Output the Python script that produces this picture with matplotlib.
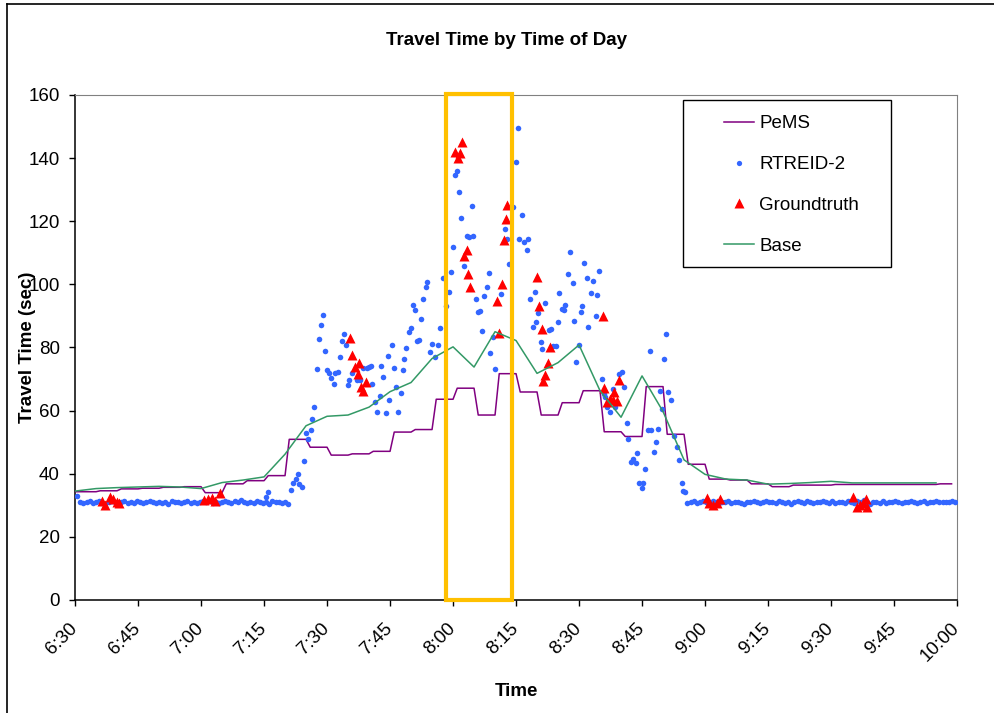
import matplotlib
matplotlib.use("Agg")
import matplotlib.pyplot as plt
import numpy as np
from matplotlib.patches import Rectangle
from matplotlib.lines import Line2D

plt.rcParams['font.family'] = ['Liberation Sans', 'DejaVu Sans']

# time is in minutes after midnight (390 = 6:30)
tick_times = [390, 405, 420, 435, 450, 465, 480, 495, 510, 525, 540, 555, 570, 585, 600]
tick_labels = ["6:30", "6:45", "7:00", "7:15", "7:30", "7:45", "8:00", "8:15",
               "8:30", "8:45", "9:00", "9:15", "9:30", "9:45", "10:00"]

# PeMS: 5-minute aggregates, one value per interval start
pems_start = [390, 395, 400, 405, 410, 415, 420, 425, 430, 435, 440, 445, 450, 455,
              460, 465, 470, 475, 480, 485, 490, 495, 500, 505, 510, 515, 520, 525,
              530, 535, 540, 545, 550, 555, 560, 565, 570, 575, 580, 585, 590, 595]
pems_vals = [34.3, 34.6, 35.2, 35.4, 35.7, 35.9, 34.0, 36.8, 37.8, 39.4, 50.9, 48.4, 45.9, 46.3,
             47.1, 53.2, 54.0, 63.6, 67.1, 58.6, 71.7, 65.9, 58.6, 62.5, 66.3, 53.3, 51.8, 67.6,
             52.5, 43.0, 38.3, 38.0, 36.8, 35.9, 36.4, 36.4, 36.6, 36.6, 36.6, 36.6, 36.6, 36.8]
pems_end = 598.7

# Base: 5-minute points
base_t = [390, 395, 400, 405, 410, 415, 420, 425, 430, 435, 440, 445, 450, 455,
          460, 465, 470, 475, 480, 485, 490, 495, 500, 505, 510, 515, 520, 525,
          530, 535, 540, 545, 550, 555, 560, 565, 570, 575, 580, 585, 590, 595]
base_vals = [34.5, 35.3, 35.6, 35.8, 36.0, 35.8, 35.3, 37.2, 38.0, 39.0, 46.2, 55.2, 58.2, 58.6,
             61.1, 66.0, 68.9, 76.5, 80.2, 73.8, 85.0, 82.2, 71.8, 75.2, 80.8, 66.3, 57.9, 71.0,
             59.7, 44.4, 39.8, 38.3, 38.0, 36.7, 36.9, 37.2, 37.6, 37.1, 37.1, 37.1, 37.1, 37.1]

# RTREID-2: free-flow stretches (regular sampling) plus the congested period
rt_step = 0.75
rt_am_start = 390.5
rt_am_vals = [33.0, 31.2, 30.6, 30.9, 31.3, 30.7, 31.0, 31.4, 30.8, 30.5,
              31.1, 31.3, 30.9, 30.6, 31.2, 31.5, 30.8, 31.0, 30.7, 31.3,
              31.1, 30.6, 30.9, 31.4, 31.0, 30.7, 31.2, 30.8, 31.1, 30.5,
              31.3, 30.9, 31.2, 30.7, 31.0, 31.4, 30.8, 31.1, 30.6, 31.0,
              31.3, 30.9, 31.5, 30.8, 31.2, 30.6, 31.0, 31.4, 31.1, 30.7,
              31.3, 30.9, 31.6, 31.0, 30.6, 31.2, 30.8, 31.4, 31.1, 30.7,
              31.0, 30.5, 31.3, 30.9, 31.2, 30.6, 31.0, 30.4]
rt_pm_start = 535.8
rt_pm_vals = [30.6, 31.0, 31.3, 30.8, 31.1, 31.5, 31.2, 30.9, 31.4, 31.0,
              30.7, 31.2, 30.9, 31.3, 30.6, 31.0, 31.2, 30.8, 30.5, 31.1,
              30.9, 31.4, 31.0, 30.7, 31.2, 31.5, 30.9, 31.1, 30.6, 31.3,
              31.0, 30.8, 31.2, 30.5, 30.9, 31.3, 31.1, 30.7, 31.4, 31.0,
              30.6, 31.2, 30.9, 31.5, 31.1, 30.8, 31.3, 30.6, 31.0, 31.2,
              30.8, 31.4, 31.0, 30.7, 31.3, 30.9, 31.6, 31.1, 30.5, 31.0,
              31.2, 30.8, 31.3, 30.6, 31.1, 30.9, 31.4, 31.0, 30.7, 31.2,
              30.9, 31.3, 31.0, 30.6, 31.2, 31.4, 30.8, 31.1, 31.0, 31.3,
              31.1, 30.9, 31.2, 31.0, 31.3, 31.1]
rt_peak_t = [435.4, 436.0, 441.5, 442.0, 442.5, 443.0, 443.4, 444.0, 444.4, 445.0,
             445.5, 446.1, 446.4, 447.0, 447.5, 448.2, 448.5, 449.0, 449.6, 449.9,
             450.4, 451.0, 451.6, 452.0, 452.5, 453.0, 453.6, 454.0, 454.5, 455.1,
             455.3, 455.9, 457.1, 457.9, 458.6, 459.5, 460.0, 460.5, 460.8, 461.4,
             462.0, 462.5, 462.9, 463.4, 464.0, 464.6, 464.8, 465.5, 466.0, 466.4,
             466.9, 467.5, 468.0, 468.3, 468.9, 469.5, 470.0, 470.4, 471.0, 471.5,
             471.8, 472.4, 472.9, 473.5, 473.9, 474.5, 475.0, 475.6, 476.5, 477.0,
             477.5, 478.3, 479.1, 479.4, 479.9, 480.5, 481.0, 481.4, 481.9, 482.5,
             483.3, 483.9, 484.5, 484.7, 485.4, 486.0, 486.4, 486.8, 487.4, 488.0,
             488.6, 488.8, 489.4, 490.0, 491.4, 492.4, 492.9, 493.3, 494.2, 494.9,
             495.5, 495.8, 496.4, 496.9, 497.5, 497.8, 498.3, 499.0, 499.5, 499.8,
             500.3, 501.0, 501.2, 501.8, 502.8, 503.3, 503.9, 504.5, 504.9, 505.3,
             506.0, 506.5, 506.7, 507.3, 507.9, 508.5, 508.7, 509.3, 509.9, 510.5,
             510.8, 511.3, 511.9, 512.2, 512.8, 513.3, 514.0, 514.2, 514.8, 515.4,
             515.9, 516.2, 516.7, 517.4, 518.0, 518.6, 519.6, 520.2, 520.8, 521.4,
             521.7, 522.3, 522.9, 523.5, 523.7, 524.3, 524.9, 525.2, 525.8, 526.4,
             526.9, 527.1, 527.8, 528.3, 528.9, 529.2, 529.8, 530.3, 530.6, 531.3,
             531.8, 532.5, 533.3, 533.9, 534.5, 534.7, 535.3]
rt_peak_vals = [32.7, 34.1, 35.0, 37.0, 38.3, 39.9, 36.7, 35.7, 44.1, 53.0,
                50.9, 53.8, 57.4, 61.2, 73.1, 82.7, 87.0, 90.4, 78.9, 72.8,
                71.8, 70.4, 68.4, 72.0, 72.3, 76.9, 82.0, 84.4, 80.8, 68.1,
                69.7, 72.0, 69.7, 69.7, 73.4, 73.4, 73.9, 74.2, 68.4, 62.7,
                59.7, 64.6, 74.2, 70.8, 59.2, 77.3, 63.5, 80.7, 73.4, 67.4,
                59.7, 65.5, 72.9, 76.3, 79.9, 85.0, 86.1, 93.5, 91.9, 82.0,
                82.4, 88.9, 95.5, 99.3, 100.8, 78.5, 81.2, 76.9, 80.8, 86.3,
                101.9, 93.2, 97.7, 103.9, 111.8, 134.7, 136.0, 129.4, 120.9, 105.9,
                115.4, 115.0, 124.7, 115.4, 95.4, 91.2, 91.7, 85.2, 96.2, 99.3,
                103.5, 78.2, 83.4, 73.1, 97.0, 117.5, 114.3, 106.4, 124.4, 138.7,
                149.4, 114.4, 122.0, 113.5, 110.9, 114.4, 95.5, 86.6, 97.7, 88.2,
                90.8, 81.8, 79.6, 94.0, 85.5, 85.8, 80.5, 80.5, 88.2, 97.4,
                92.1, 91.9, 93.5, 103.2, 110.2, 100.5, 88.5, 75.5, 80.8, 91.2,
                93.2, 106.7, 101.9, 86.6, 97.4, 101.2, 90.1, 96.6, 104.3, 70.0,
                65.3, 64.4, 61.1, 59.7, 66.9, 61.3, 71.5, 72.1, 67.4, 56.2,
                50.9, 43.8, 44.6, 43.3, 46.5, 37.0, 35.4, 37.0, 41.5, 53.9,
                78.9, 53.9, 46.9, 50.0, 54.2, 66.2, 60.4, 76.3, 84.3, 65.8,
                63.5, 51.8, 48.4, 44.3, 37.0, 34.6, 34.1]

# Groundtruth
gt_t = [396.4, 397.1, 398.3, 399.1, 399.9, 400.5,
        420.7, 421.7, 422.5, 423.3, 424.4,
        455.5, 456.0, 456.7, 457.3, 457.5, 458.0, 458.6, 459.3,
        480.5, 481.3, 481.6, 482.1, 482.7, 483.3, 483.5, 484.0,
        490.4, 491.0, 491.6, 492.1, 492.5, 492.9,
        499.9, 500.5, 501.1, 501.5, 501.9, 502.5, 503.1,
        515.6, 516.0, 516.6, 517.4, 518.2, 518.4, 519.0, 519.5,
        540.4, 541.0, 542.0, 542.8, 543.6,
        575.2, 576.1, 576.9, 577.5, 578.3, 578.6]
gt_vals = [31.4, 30.1, 32.7, 31.9, 31.1, 30.8,
           31.7, 31.9, 32.2, 31.4, 34.0,
           83.1, 77.6, 73.7, 71.5, 75.0, 67.4, 66.1, 69.0,
           142.0, 139.9, 141.5, 145.2, 109.0, 110.9, 103.3, 99.3,
           94.7, 84.7, 100.1, 113.9, 120.6, 125.2,
           102.4, 93.2, 85.9, 69.5, 71.3, 75.0, 80.1,
           90.1, 67.1, 62.8, 63.6, 63.4, 66.0, 63.2, 69.7,
           32.2, 30.6, 30.1, 30.6, 31.9,
           32.7, 29.6, 30.1, 30.6, 31.9, 29.6]

# highlighted window
box_t0, box_t1, box_top = 478.3, 494.0, 160.3

fig = plt.figure(figsize=(9.94, 7.13), dpi=100)
ax = fig.add_axes([0.0755, 0.1585, 0.8873, 0.7083])

# PeMS as a step line with a one-minute ramp between intervals
px, py = [pems_start[0]], [pems_vals[0]]
for i, s in enumerate(pems_start):
    if i > 0:
        px.append(s + 1)
        py.append(pems_vals[i])
    end = pems_start[i + 1] if i + 1 < len(pems_start) else pems_end
    px.append(end)
    py.append(pems_vals[i])
ax.plot(px, py, color='#800080', lw=1.1, label='PeMS', zorder=3)

rt_t = np.concatenate([rt_am_start + rt_step * np.arange(len(rt_am_vals)),
                       rt_peak_t,
                       rt_pm_start + rt_step * np.arange(len(rt_pm_vals))])
rt_v = np.concatenate([rt_am_vals, rt_peak_vals, rt_pm_vals])
ax.plot(rt_t, rt_v, ls='none', marker='o', ms=4, mec='none', color='#3366FF',
        label='RTREID-2', zorder=4)
ax.plot(gt_t, gt_vals, ls='none', marker='^', ms=7, mec='none', color='#FF0000',
        label='Groundtruth', zorder=5)
ax.plot(base_t, base_vals, color='#339966', lw=1.1, label='Base', zorder=6)

ax.add_patch(Rectangle((box_t0, 0), box_t1 - box_t0, box_top, fill=False,
                       ec='#FFC000', lw=3, clip_on=False, zorder=7))

ax.set_xlim(390, 600)
ax.set_ylim(0, 160)
ax.set_xticks(tick_times)
ax.set_xticklabels(tick_labels, rotation=45, ha='right', va='center',
                   rotation_mode='anchor')
ax.set_yticks(range(0, 161, 20))
ax.tick_params(axis='both', labelsize=13.5, length=4.5, width=1, direction='out')
ax.tick_params(axis='y', pad=6.5)
ax.tick_params(axis='x', pad=14)

for side in ['top', 'right']:
    ax.spines[side].set_color('#808080')
    ax.spines[side].set_linewidth(0.8)
for side in ['left', 'bottom']:
    ax.spines[side].set_linewidth(1.1)

ax.set_xlabel('Time', fontsize=13.5, fontweight='bold')
ax.xaxis.set_label_coords(0.5, -0.1635)
ax.set_ylabel('Travel Time (sec)', fontsize=13.5, fontweight='bold')
ax.yaxis.set_label_coords(-0.044, 0.5)

fig.text(0.5096, 0.9372, 'Travel Time by Time of Day', fontsize=13.5,
         fontweight='bold', ha='center', va='baseline')

leg = ax.legend(loc='upper left', bbox_to_anchor=(0.7358, 0.9598), frameon=False,
                fontsize=13.5, borderpad=0, borderaxespad=0, labelspacing=1.26,
                handlelength=1.6, handletextpad=0.27, markerscale=0.95)
leg.set_zorder(8)
ax.add_patch(Rectangle((0.6893, 0.6594), 0.2358, 0.3307, transform=ax.transAxes,
                       fill=True, fc='white', ec='black', lw=1, zorder=7.5))

# outer chart border (top and left edges visible)
fig.add_artist(Line2D([7 / 994, 1], [1 - 4 / 713, 1 - 4 / 713], color='black', lw=1.2))
fig.add_artist(Line2D([7 / 994, 7 / 994], [0, 1 - 4 / 713], color='black', lw=1.2))

fig.savefig('out.png', dpi=100)
